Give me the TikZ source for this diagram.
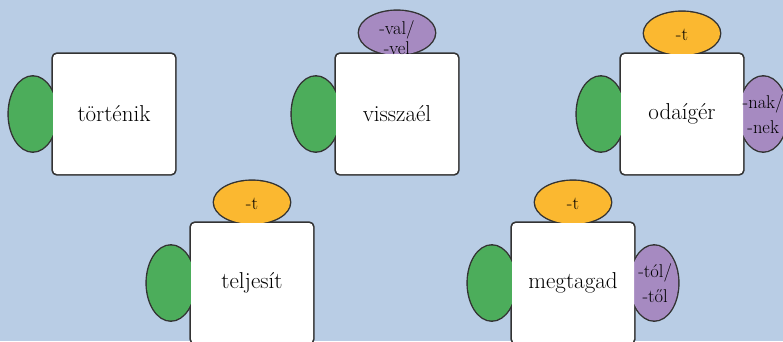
\documentclass[tikz,border=0pt]{standalone}

\definecolor{sky}{RGB}{185,205,229}
\definecolor{edge}{RGB}{51,51,51}
\definecolor{leaf}{RGB}{76,173,91}
\definecolor{amber}{RGB}{251,184,48}
\definecolor{lilac}{RGB}{166,138,193}

\pgfdeclarelayer{bg}
\pgfdeclarelayer{outline}
\pgfdeclarelayer{tabs}
\pgfsetlayers{bg,outline,tabs,main}

% knob: centre, x radius, y radius, colour
\newcommand{\knob}[4]{%
  \begin{pgfonlayer}{outline}
    \draw[outl] #1 ellipse [x radius=#2, y radius=#3];
  \end{pgfonlayer}
  \begin{pgfonlayer}{tabs}
    \fill[#4] #1 ellipse [x radius=#2, y radius=#3];
  \end{pgfonlayer}}
% rim of a piece
\newcommand{\rim}[1]{%
  \begin{pgfonlayer}{outline}
    \draw[outl] (#1.south west) rectangle (#1.north east);
  \end{pgfonlayer}}

\begin{document}
\begin{tikzpicture}[x=1pt, y=1pt,
  piece/.style={rectangle, rounded corners=4pt, fill=white, inner sep=0pt,
    minimum width=122pt, minimum height=120pt, font=\fontsize{23}{27}\selectfont},
  outl/.style={draw=edge, line width=2.8pt, rounded corners=4pt, line join=round},
  suffix/.style={inner sep=0pt, align=center, font=\fontsize{18.5}{20}\selectfont},
  sidesuffix/.style={suffix, font=\fontsize{18.5}{25}\selectfont}
]
  \begin{pgfonlayer}{bg}
    \fill[sky] (0,0) rectangle (783,341);
  \end{pgfonlayer}
  \useasboundingbox (0,0) rectangle (783,341);

  \node[piece] (tort) at (114,227) {történik};
  \node[piece] (vissza) at (397,227) {visszaél};
  \node[piece] (oda) at (682,227) {odaígér};
  \node[piece] (telj) at (252,58) {teljesít};
  \node[piece] (megt) at (573,58) {megtagad};

  \rim{tort} \rim{vissza} \rim{oda} \rim{telj} \rim{megt}

  \knob{([xshift=-20pt]tort.west)}{24pt}{37.5pt}{leaf}
  \knob{([xshift=-20pt]vissza.west)}{24pt}{37.5pt}{leaf}
  \knob{([xshift=-20pt]oda.west)}{24pt}{37.5pt}{leaf}
  \knob{([xshift=-20pt]telj.west)}{24pt}{37.5pt}{leaf}
  \knob{([xshift=-20pt]megt.west)}{24pt}{37.5pt}{leaf}

  \knob{([yshift=21pt]vissza.north)}{38pt}{22pt}{lilac}
  \knob{([yshift=20.5pt]oda.north)}{38pt}{21.5pt}{amber}
  \knob{([yshift=20.5pt]telj.north)}{38pt}{21.5pt}{amber}
  \knob{([yshift=20.5pt]megt.north)}{38pt}{21.5pt}{amber}

  \knob{([xshift=20pt]oda.east)}{24pt}{37.5pt}{lilac}
  \knob{([xshift=20pt]megt.east)}{24pt}{37.5pt}{lilac}

  \node[suffix] (vissza-val) at ([yshift=16pt]vissza.north) {-val/\\-vel};
  \node[suffix] (oda-t) at ([yshift=19pt]oda.north) {-t};
  \node[suffix] (telj-t) at ([yshift=19pt]telj.north) {-t};
  \node[suffix] (megt-t) at ([yshift=19pt]megt.north) {-t};
  \node[sidesuffix] (oda-nak) at ([xshift=20pt]oda.east) {-nak/\\-nek};
  \node[sidesuffix] (megt-tol) at ([xshift=21pt]megt.east) {-tól/\\-től};
\end{tikzpicture}
\end{document}
